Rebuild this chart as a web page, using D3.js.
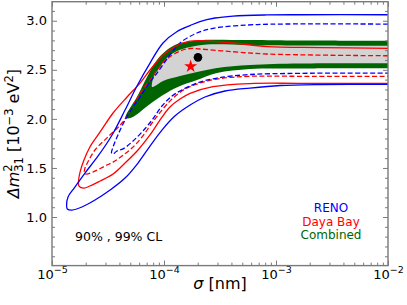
<!DOCTYPE html>
<html>
<head>
<meta charset="utf-8">
<script src="https://cdn.jsdelivr.net/npm/d3@7"></script>
<style>
  body { margin: 0; background: #fff; }
  text { font-family: "DejaVu Sans", sans-serif; }
</style>
</head>
<body>
<div id="chart"></div>
<script>
// contour points, each point is [sigma (nm), dm2_31 (1e-3 eV^2)]
// open contours: upper branch from sigma = 1e-2 down to the tip, then lower branch back
const reno99 = [
    [1e-2, 3.061], [1.64e-3, 3.061], [8.32e-4, 3.059], [4.13e-4, 3.048], [2.85e-4, 3.028],
    [2.09e-4, 2.992], [1.71e-4, 2.951], [1.31e-4, 2.890], [9.80e-5, 2.773], [7.50e-5, 2.569],
    [5.74e-5, 2.335], [4.49e-5, 2.090], [3.44e-5, 1.836], [2.58e-5, 1.622], [1.97e-5, 1.448],
    [1.60e-5, 1.305], [1.39e-5, 1.204], [1.35e-5, 1.122], [1.37e-5, 1.082],
    [1.51e-5, 1.071], [1.85e-5, 1.102], [2.42e-5, 1.173], [3.30e-5, 1.275], [4.49e-5, 1.397],
    [5.86e-5, 1.550], [7.50e-5, 1.723], [9.59e-5, 1.886], [1.25e-4, 2.029], [1.71e-4, 2.141],
    [2.32e-4, 2.223], [3.51e-4, 2.284], [5.86e-4, 2.314], [1.09e-3, 2.340], [2.47e-3, 2.350],
    [1e-2, 2.352]
];
const reno90 = [
    [1e-2, 2.966], [1.09e-3, 2.966], [5.51e-4, 2.956], [2.74e-4, 2.923], [1.97e-4, 2.875],
    [1.39e-4, 2.773], [1.13e-4, 2.651], [8.66e-5, 2.467], [7.50e-5, 2.375], [6.11e-5, 2.223],
    [5.28e-5, 2.121], [4.49e-5, 1.988], [3.88e-5, 1.836], [3.51e-5, 1.714], [3.40e-5, 1.652],
    [3.51e-5, 1.642], [3.80e-5, 1.673], [4.31e-5, 1.694], [5.18e-5, 1.765], [6.37e-5, 1.867],
    [7.82e-5, 1.988], [9.59e-5, 2.131], [1.18e-4, 2.233], [1.39e-4, 2.284], [1.97e-4, 2.365],
    [2.97e-4, 2.416], [5.86e-4, 2.452], [1.64e-3, 2.464], [1e-2, 2.467]
];
const dayaBay99 = [
    [1e-2, 2.719], [2.47e-3, 2.727], [8.32e-4, 2.737], [4.13e-4, 2.773], [2.09e-4, 2.798],
    [1.71e-4, 2.793], [1.39e-4, 2.763], [1.20e-4, 2.722], [9.80e-5, 2.651], [7.50e-5, 2.498],
    [6.11e-5, 2.365], [4.68e-5, 2.223], [3.51e-5, 2.060], [2.69e-5, 1.867], [2.18e-5, 1.714],
    [1.93e-5, 1.581], [1.78e-5, 1.458], [1.73e-5, 1.377], [1.74e-5, 1.316],
    [1.93e-5, 1.295], [2.18e-5, 1.316], [2.69e-5, 1.367], [3.51e-5, 1.438], [4.49e-5, 1.550],
    [5.86e-5, 1.683], [7.50e-5, 1.836], [9.20e-5, 1.988], [1.13e-4, 2.121], [1.39e-4, 2.202],
    [1.71e-4, 2.260], [2.74e-4, 2.328], [5.86e-4, 2.360], [1.64e-3, 2.362], [1e-2, 2.362]
];
const dayaBay90 = [
    [1e-2, 2.643], [8.32e-4, 2.661], [4.13e-4, 2.684], [2.09e-4, 2.712], [1.71e-4, 2.717],
    [1.39e-4, 2.691], [1.06e-4, 2.610], [9.20e-5, 2.538], [7.50e-5, 2.396], [6.11e-5, 2.263],
    [5.18e-5, 2.111], [4.22e-5, 1.958], [3.16e-5, 1.816], [2.42e-5, 1.683], [2.09e-5, 1.560],
    [1.97e-5, 1.499], [1.95e-5, 1.448],
    [2.01e-5, 1.438], [2.32e-5, 1.458], [2.97e-5, 1.520], [3.51e-5, 1.560], [4.22e-5, 1.622],
    [5.18e-5, 1.703], [6.37e-5, 1.816], [7.82e-5, 1.958], [9.59e-5, 2.090], [1.18e-4, 2.202],
    [1.54e-4, 2.304], [2.09e-4, 2.365], [3.16e-4, 2.411], [5.86e-4, 2.434], [1.64e-3, 2.434],
    [1e-2, 2.434]
];
// combined allowed regions (filled)
const combined99 = [
    [1e-2, 2.796], [1.64e-3, 2.798], [5.86e-4, 2.803], [2.09e-4, 2.803], [1.71e-4, 2.788],
    [1.31e-4, 2.763], [1.06e-4, 2.701], [8.66e-5, 2.600], [7.05e-5, 2.426], [5.74e-5, 2.223],
    [4.97e-5, 2.111], [4.58e-5, 2.039], [4.53e-5, 2.009],
    [4.78e-5, 2.004], [5.28e-5, 2.019], [6.11e-5, 2.070], [7.50e-5, 2.151], [9.80e-5, 2.243],
    [1.33e-4, 2.325], [1.97e-4, 2.396], [2.97e-4, 2.467], [5.86e-4, 2.508], [1.64e-3, 2.513],
    [1e-2, 2.515]
];
const combined90 = [
    [1e-2, 2.745], [1.64e-3, 2.747], [5.86e-4, 2.752], [2.42e-4, 2.758], [1.71e-4, 2.732],
    [1.31e-4, 2.691], [1.06e-4, 2.620], [8.83e-5, 2.498], [8.15e-5, 2.437], [7.82e-5, 2.365],
    [7.82e-5, 2.325],
    [8.32e-5, 2.335], [9.80e-5, 2.386], [1.39e-4, 2.437], [1.97e-4, 2.477], [2.97e-4, 2.518],
    [5.86e-4, 2.549], [1.64e-3, 2.564], [1e-2, 2.566]
];
// best fit points
const bestFitCombined = [2.01e-4, 2.627];
const bestFitDayaBay = [1.73e-4, 2.535];

// ticks and labels
const xTickValues = [1e-5, 1e-4, 1e-3, 1e-2];
const xTickExponents = ["\u22125", "\u22124", "\u22123", "\u22122"];
const yTickValues = [1.0, 1.5, 2.0, 2.5, 3.0];
const legendNames = ["RENO", "Daya Bay", "Combined"];
const clText = "90% , 99% CL";

// styles
const colours = { reno: "#0000ff", dayaBay: "#ff0000", combined: "#006400", fill90: "#d3d3d3", frame: "#7a7a7a" };
const legendColours = [colours.reno, colours.dayaBay, colours.combined];

const width = 407, height = 305;
const plot = { left: 52, right: 388, top: 1.7, bottom: 265.6 };

const svg = d3.select("#chart").append("svg")
    .attr("width", width)
    .attr("height", height);

const x = d3.scaleLog().domain([1e-5, 1e-2]).range([plot.left, plot.right]);
const y = d3.scaleLinear().domain([0.505, 3.194]).range([plot.bottom, plot.top]);

svg.append("clipPath").attr("id", "plotclip")
    .append("rect")
    .attr("x", plot.left).attr("y", plot.top)
    .attr("width", plot.right - plot.left).attr("height", plot.bottom - plot.top);

const line = d3.line()
    .x(d => x(d[0]))
    .y(d => y(d[1]))
    .curve(d3.curveCatmullRom.alpha(0.5));

const area = svg.append("g").attr("clip-path", "url(#plotclip)");

// filled combined regions
area.append("path").attr("d", line(combined99) + "Z").attr("fill", colours.combined);
area.append("path").attr("d", line(combined90) + "Z").attr("fill", colours.fill90);

// experiment contours
const contours = [
    { pts: dayaBay90, colour: colours.dayaBay, dash: "5,2.5" },
    { pts: reno90, colour: colours.reno, dash: "5,2.5" },
    { pts: dayaBay99, colour: colours.dayaBay, dash: null },
    { pts: reno99, colour: colours.reno, dash: null }
];
contours.forEach(c => {
    area.append("path")
        .attr("d", line(c.pts))
        .attr("fill", "none")
        .attr("stroke", c.colour)
        .attr("stroke-width", 1.3)
        .attr("stroke-dasharray", c.dash);
});

// best fit markers
area.append("circle")
    .attr("cx", x(bestFitCombined[0]))
    .attr("cy", y(bestFitCombined[1]))
    .attr("r", 4.3)
    .attr("fill", "#000");
area.append("path")
    .attr("d", d3.symbol().type(d3.symbolStar).size(52)())
    .attr("transform", `translate(${x(bestFitDayaBay[0])},${y(bestFitDayaBay[1])})`)
    .attr("fill", colours.dayaBay);

// minor tick values
const xMinor = [];
[1e-5, 1e-4, 1e-3].forEach(dec => { for (let k = 2; k <= 9; k++) xMinor.push(k * dec); });
const yMinor = d3.range(6, 32).map(v => v / 10).filter(v => !yTickValues.includes(v));

// ticks point inwards on all four sides
function drawAxis(axisFn, pos, values, size) {
    return svg.append("g")
        .attr("transform", pos)
        .call(axisFn.tickValues(values).tickSize(-size).tickFormat(""))
        .call(g => g.select(".domain").remove())
        .call(g => g.selectAll(".tick line").attr("stroke", colours.frame).attr("stroke-width", 1));
}
const bottomAxis = drawAxis(d3.axisBottom(x), `translate(0,${plot.bottom})`, xTickValues, 5);
drawAxis(d3.axisBottom(x), `translate(0,${plot.bottom})`, xMinor, 3);
drawAxis(d3.axisTop(x), `translate(0,${plot.top})`, xTickValues, 5);
drawAxis(d3.axisTop(x), `translate(0,${plot.top})`, xMinor, 3);
drawAxis(d3.axisRight(y), `translate(${plot.right},0)`, yTickValues, 5);
drawAxis(d3.axisRight(y), `translate(${plot.right},0)`, yMinor, 3);
drawAxis(d3.axisLeft(y), `translate(${plot.left},0)`, yMinor, 3);

svg.append("g")
    .attr("transform", `translate(${plot.left},0)`)
    .call(d3.axisLeft(y).tickValues(yTickValues).tickSize(-5).tickPadding(5).tickFormat(d3.format(".1f")))
    .call(g => g.select(".domain").remove())
    .call(g => g.selectAll(".tick line").attr("stroke", colours.frame))
    .call(g => g.selectAll(".tick text")
        .attr("font-family", "DejaVu Sans")
        .attr("font-size", 13)
        .attr("fill", "#000"));

// 10^n labels on x axis
bottomAxis.selectAll(".tick").each(function (d, i) {
    const t = d3.select(this).append("text")
        .attr("y", 13.5)
        .attr("text-anchor", "middle")
        .attr("font-size", 13)
        .attr("fill", "#000");
    t.append("tspan").text("10");
    t.append("tspan").attr("font-size", 9.5).attr("dy", -6).text(xTickExponents[i]);
});

// frame
svg.append("rect")
    .attr("x", plot.left).attr("y", plot.top)
    .attr("width", plot.right - plot.left).attr("height", plot.bottom - plot.top)
    .attr("fill", "none")
    .attr("stroke", colours.frame)
    .attr("stroke-width", 1.4);

// axis titles
const xTitle = svg.append("text")
    .attr("x", (plot.left + plot.right) / 2)
    .attr("y", 289)
    .attr("text-anchor", "middle")
    .attr("font-size", 16);
xTitle.append("tspan").attr("font-style", "italic").text("\u03c3");
xTitle.append("tspan").text(" [nm]");

const yTitle = svg.append("text")
    .attr("transform", `translate(19,${(plot.top + plot.bottom) / 2}) rotate(-90)`)
    .attr("text-anchor", "middle")
    .attr("font-size", 16);
yTitle.append("tspan").attr("font-style", "italic").text("\u0394m");
yTitle.append("tspan").attr("font-size", 11.5).attr("dy", -7).text("2");
yTitle.append("tspan").attr("font-size", 11.5).attr("dx", -7.3).attr("dy", 11).text("31");
yTitle.append("tspan").attr("dy", -4).text(" [10");
yTitle.append("tspan").attr("font-size", 11.5).attr("dy", -6.5).text("\u22123");
yTitle.append("tspan").attr("dy", 6.5).text(" eV");
yTitle.append("tspan").attr("font-size", 11.5).attr("dy", -6.5).text("2");
yTitle.append("tspan").attr("dy", 6.5).text("]");

// confidence level note
svg.append("text")
    .attr("x", 75)
    .attr("y", 241)
    .attr("font-size", 12.5)
    .attr("fill", "#000")
    .text(clText);

// legend as coloured text
svg.selectAll(".legend")
    .data(legendNames)
    .enter()
    .append("text")
    .attr("class", "legend")
    .attr("x", 331)
    .attr("y", (d, i) => 212 + i * 13.5)
    .attr("text-anchor", "middle")
    .attr("font-size", 12)
    .attr("fill", (d, i) => legendColours[i])
    .text(d => d);
</script>
</body>
</html>
